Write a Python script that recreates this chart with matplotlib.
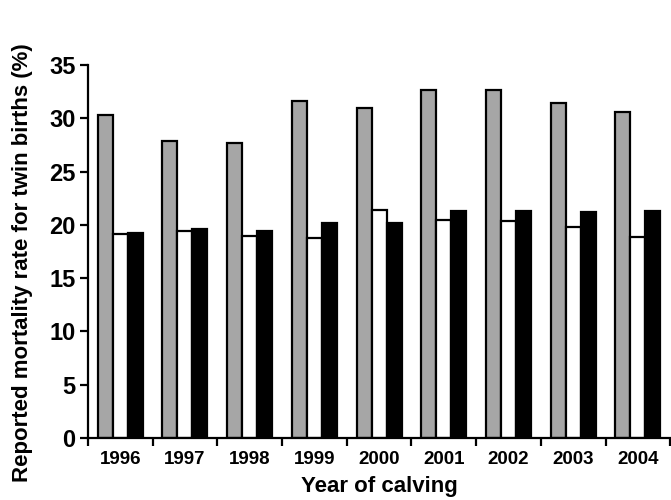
import matplotlib
matplotlib.use("Agg")
import matplotlib.pyplot as plt
import numpy as np

plt.rcParams['font.family'] = ['Liberation Sans', 'DejaVu Sans']

years = ["1996", "1997", "1998", "1999", "2000", "2001", "2002", "2003", "2004"]
gray_series = [30.3, 27.9, 27.7, 31.6, 31.0, 32.7, 32.7, 31.4, 30.6]
white_series = [19.1, 19.4, 19.0, 18.8, 21.4, 20.5, 20.4, 19.8, 18.9]
black_series = [19.2, 19.6, 19.4, 20.2, 20.2, 21.3, 21.3, 21.2, 21.3]

fig = plt.figure(figsize=(6.71, 5.0), dpi=100)
ax = fig.add_axes([0.131, 0.124, 0.868, 0.746])

x = np.arange(len(years))
w = 0.232
common = dict(width=w, edgecolor="black", linewidth=1.6)
ax.bar(x - w, gray_series, color="#a6a6a6", **common)
ax.bar(x, white_series, color="white", **common)
ax.bar(x + w, black_series, color="black", **common)

ax.set_xlim(-0.5, len(years) - 0.5)
ax.set_ylim(0, 35)
ax.set_yticks(np.arange(0, 36, 5))

# Category labels sit between boundary tick marks
ax.set_xticks(np.arange(-0.5, len(years), 1.0))
ax.set_xticklabels([])
ax.set_xticks(x, minor=True)
ax.set_xticklabels(years, minor=True, fontsize=13.5, fontweight="bold")
ax.tick_params(axis="x", which="minor", length=0, pad=9)
ax.tick_params(axis="x", which="major", length=6, width=1.6, direction="out")
ax.tick_params(axis="y", length=6, width=1.6, direction="out", labelsize=17, pad=3)
for lbl in ax.get_yticklabels():
    lbl.set_fontweight("bold")

for side in ("top", "right"):
    ax.spines[side].set_visible(False)
for side in ("left", "bottom"):
    ax.spines[side].set_linewidth(1.6)

ax.set_xlabel("Year of calving", fontsize=16, fontweight="bold")
ax.xaxis.set_label_coords(0.5, -0.102)
ax.set_ylabel("Reported mortality rate for twin births (%)", fontsize=16, fontweight="bold")
ax.yaxis.set_label_coords(-0.095, 0.47)

fig.savefig("out.png", dpi=100)
